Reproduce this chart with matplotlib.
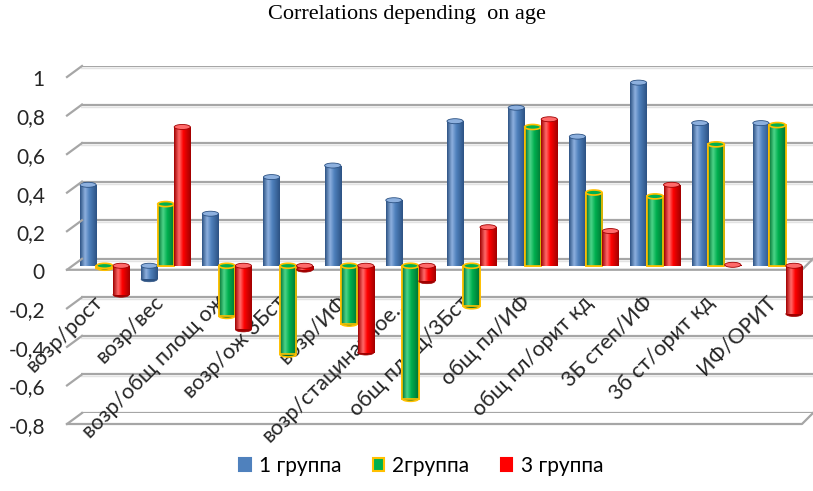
import numpy as np
import matplotlib
matplotlib.use("Agg")
import matplotlib.pyplot as plt
from matplotlib.colors import LinearSegmentedColormap
from matplotlib.patches import Ellipse
from matplotlib.lines import Line2D
from matplotlib.transforms import ScaledTranslation, IdentityTransform

# ---- data ----
categories = ["возр/рост", "возр/вес", "возр/общ площ ож", "возр/ож 3Бст", "возр/ИФ",
              "возр/стацинарное…", "общ площ/3Бст", "общ пл/ИФ", "общ пл/орит кд",
              "3Б степ/ИФ", "3б ст/орит кд", "ИФ/ОРИТ"]
group1 = [0.42, -0.07, 0.27, 0.46, 0.52, 0.34, 0.75, 0.82, 0.67, 0.95, 0.74, 0.74]
group2 = [-0.01, 0.32, -0.26, -0.46, -0.30, -0.69, -0.21, 0.72, 0.38, 0.36, 0.63, 0.73]
group3 = [-0.15, 0.72, -0.33, -0.02, -0.45, -0.08, 0.20, 0.76, 0.18, 0.42, 0.005, -0.25]
series_names = ["1 группа", "2группа", "3 группа"]
yticks = [-0.8, -0.6, -0.4, -0.2, 0, 0.2, 0.4, 0.6, 0.8, 1.0]
ytick_labels = ["-0,8", "-0,6", "-0,4", "-0,2", "0", "0,2", "0,4", "0,6", "0,8", "1"]
title = "Correlations depending  on age"

colors = ["#4F81BD", "#00B050", "#FF0000"]
dark = ["#2C5283", "#00702F", "#A00000"]
light = ["#8DB0DE", "#4CD488", "#FF6A6A"]
edges = [None, "#FFC000", None]
grid_c = "#A6A6A6"

W, H = 813, 491
fig = plt.figure(figsize=(W / 100, H / 100), dpi=100)


def px_axes(l, r, t, b):
    return fig.add_axes([l / W, 1 - b / H, (r - l) / W, (b - t) / H])


# back wall (gridlines + y labels)
ax = px_axes(81, 813, 66, 413)
ax.set_ylim(-0.8, 1.0)
ax.set_xlim(0, 1)
for s in ax.spines.values():
    s.set_visible(False)
ax.tick_params(length=0, axis="both")
ax.tick_params(axis="y", pad=26)
ax.set_xticks([])
ax.set_yticks(yticks)
ax.set_yticklabels(ytick_labels, fontsize=15, color="#262626", family="Lato")
for lab in ax.get_yticklabels():
    lab.set_transform(lab.get_transform() + ScaledTranslation(0, -12 / 100, fig.dpi_scale_trans))
shadow_tr = ax.get_yaxis_transform() + ScaledTranslation(0, -2 / 100, fig.dpi_scale_trans)
for yv in yticks:
    ax.axhline(yv, color=grid_c, lw=1.6, zorder=0.5)
    ax.plot([0, 1], [yv, yv], color="#E3E3E3", lw=1.0, zorder=0.4, transform=shadow_tr)

# bars plane (mid depth)
axb = px_axes(74, 808, 73, 420)
axb.patch.set_visible(False)
axb.set_zorder(ax.get_zorder() + 1)
xlim = (-0.5, len(categories) - 0.5)
axb.set_xlim(*xlim)
axb.set_ylim(-0.8, 1.0)
for s in axb.spines.values():
    s.set_visible(False)
axb.spines["bottom"].set_position(("data", 0))
axb.set_yticks([])
axb.tick_params(length=0)
axb.tick_params(axis="x", pad=24)

x = np.arange(len(categories))
axb.set_xticks(x)
axb.set_xticklabels(categories, fontsize=15.5, color="#262626", family="Lato")
for lab in axb.get_xticklabels():
    lab.set_rotation(45)
    lab.set_rotation_mode("anchor")
    lab.set_ha("right")
    lab.set_va("center")
    lab.set_transform(lab.get_transform() + ScaledTranslation(-5 / 100, 0, fig.dpi_scale_trans))

bw = 0.27
grad = np.linspace(0, 1, 128)[None, :]
all_series = [group1, group2, group3]
ell_h = 0.026
for k, vals in enumerate(all_series):
    cm = LinearSegmentedColormap.from_list(
        f"c{k}", [(0, dark[k]), (0.3, light[k]), (0.55, colors[k]), (1, dark[k])])
    bars = axb.bar(x + (k - 1) * bw, vals, width=bw * 0.98, color=colors[k],
                   edgecolor=edges[k] if edges[k] else "none",
                   linewidth=1.2 if edges[k] else 0, zorder=2 + k * 0.1)
    for b, v in zip(bars, vals):
        x0, w = b.get_x(), b.get_width()
        y0, y1 = sorted([0, v])
        im = axb.imshow(grad, extent=[x0, x0 + w, y0, y1], aspect="auto", cmap=cm,
                        zorder=2.01 + k * 0.1, interpolation="bilinear")
        im.set_clip_path(b)
        if edges[k]:
            axb.bar(x0 + w / 2, v, width=w, color="none", edgecolor=edges[k], linewidth=1.2,
                    zorder=2.02 + k * 0.1)
        top = max(v, 0)
        axb.add_patch(Ellipse((x0 + w / 2, top), w, ell_h, facecolor=light[k] if k != 1 else colors[k],
                              edgecolor=edges[k] if edges[k] else dark[k], lw=1.2 if edges[k] else 0.6,
                              zorder=2.03 + k * 0.1))
        if v < 0:
            axb.add_patch(Ellipse((x0 + w / 2, v), w, ell_h, facecolor=dark[k],
                                  edgecolor=edges[k] if edges[k] else dark[k], lw=1.2 if edges[k] else 0.5,
                                  zorder=2.005 + k * 0.1))
axb.set_xlim(*xlim)
axb.set_ylim(-0.8, 1.0)

# 3D-like slanted grid ends, floor at 0 and at the bottom (display coords)
fig.canvas.draw()
tr = ax.get_yaxis_transform()
dxs, dys = 14, 11
for yv in yticks:
    bx, by = tr.transform((0, yv))
    fig.add_artist(Line2D([bx - dxs, bx + 1], [by - dys, by], transform=None, color=grid_c, lw=1.6))
for yv, z in [(0, 1), (yticks[0], 1)]:
    lx, ly = tr.transform((0, yv))
    rx, ry = tr.transform((1, yv))
    ln = Line2D([lx - dxs, rx - dxs + 3, rx], [ly - dys, ly - dys, ry], transform=IdentityTransform(),
                color=grid_c, lw=1.6, zorder=z, clip_on=False)
    axb.add_line(ln)

fig.text(0.5, 1 - 15 / H, title, ha="center", va="center", fontsize=16,
         family="Liberation Serif", color="#000000")

handles = [plt.Rectangle((0, 0), 1, 1, facecolor=colors[i],
                         edgecolor=edges[i] if edges[i] else colors[i], lw=1.5) for i in range(3)]
fig.legend(handles, series_names, loc="center", bbox_to_anchor=(0.518, 1 - 466 / H), ncol=3,
           frameon=False, prop={"family": "Lato", "size": 15}, handlelength=0.55, handleheight=0.55,
           columnspacing=1.5, handletextpad=0.4)

fig.savefig("out.png", dpi=100)
